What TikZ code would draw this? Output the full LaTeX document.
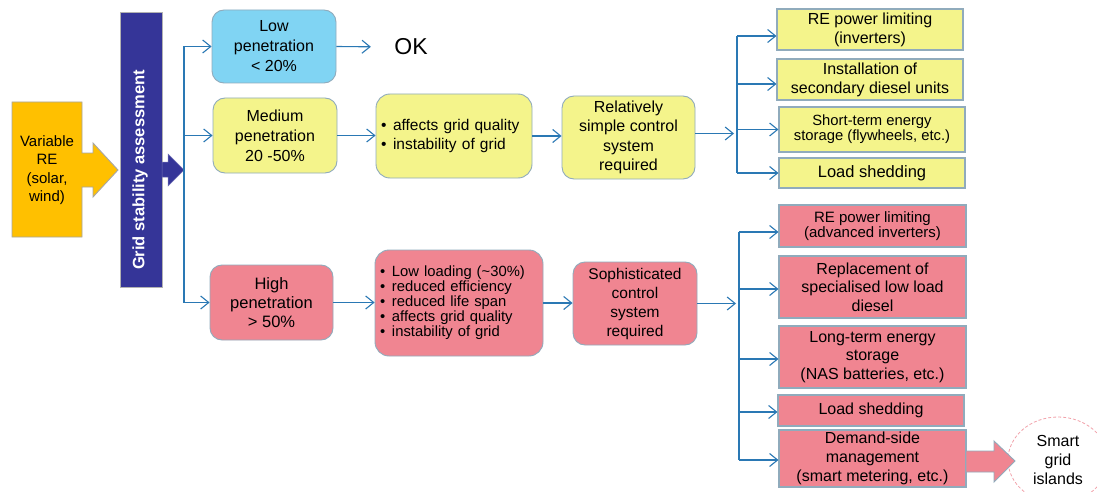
\documentclass[tikz,border=0pt]{standalone}
\usepackage{fontspec}
\setmainfont{Liberation Sans}
\usetikzlibrary{arrows.meta,shapes.geometric}
\definecolor{lowblue}{HTML}{80D4F3}
\definecolor{yel}{HTML}{F4F48B}
\definecolor{pnk}{HTML}{F08591}
\definecolor{bord}{HTML}{90ABBC}
\definecolor{conn}{HTML}{2A78B4}
\definecolor{barblue}{HTML}{353598}
\definecolor{org}{HTML}{FFC000}
\definecolor{dashpink}{HTML}{F2A2AA}
\newcommand\fsz[2]{\fontsize{#1}{#2}\selectfont}
\tikzset{
  rbox/.style={draw=bord, line width=0.9pt, rounded corners=12pt, align=center, inner sep=0pt},
  sbox/.style={draw=bord, line width=1.1pt, align=center, inner sep=0pt},
  blist/.style={draw=bord, line width=0.9pt, rounded corners=14pt, align=left, inner sep=5pt},
  conn/.style={draw=conn, line width=1.1pt, -{Straight Barb[length=8pt,width=13pt]}},
  trunk/.style={draw=conn, line width=2pt},
  fat/.style={draw=bord, line width=0.9pt, line join=miter},
}
\newcommand\bl{\makebox[12pt][l]{•}}
\begin{document}
\begin{tikzpicture}[x=1pt,y=-1pt]
\useasboundingbox (0,0) rectangle (1097,492);
\clip (0,0) rectangle (1097,492);
\fill[white] (0,0) rectangle (1097,492);

% Variable RE arrow
\coordinate (va) at (12,102);
\filldraw[fat, fill=org, draw=gray!70] (va) -- (82,102) -- (82,153) -- (93,153) -- (93,143) -- (118,170) -- (93,197) -- (93,187) -- (82,187) -- (82,237) -- (12,237) -- cycle;
\node[font=\fsz{15}{18.5}, align=center] (vre) at (47,170) {Variable\\RE\\(solar,\\wind)};

% Grid stability bar
\filldraw[fill=barblue, draw=gray!60, line width=0.8pt] (120,12) rectangle (162,287);
\node[rotate=90, text=white, font=\bfseries\fsz{16.5}{19}] (gsa) at (140,170) {Grid stability assessment};
\filldraw[fill=barblue, draw=barblue!70, line width=0.5pt, line join=miter] (162,162) -- (168,162) -- (168,154) -- (184,170) -- (168,186) -- (168,177) -- (162,177) -- cycle;

% penetration boxes
\node[rbox, fill=lowblue, minimum width=124pt, minimum height=73pt, font=\fsz{16}{20}] (low) at (274,46.5) {Low\\penetration\\< 20\%};
\node[rbox, fill=yel, minimum width=124pt, minimum height=75pt, font=\fsz{16}{20}] (med) at (275,135.5) {Medium\\penetration\\20 -50\%};
\node[rbox, fill=pnk, minimum width=123pt, minimum height=75pt, font=\fsz{16.5}{19}] (high) at (271.5,302.5) {High\\penetration\\> 50\%};

\node[font=\fsz{23}{26}] (ok) at (411,47) {OK};

% main trunk
\coordinate (tm) at (184,0);
\draw[trunk] (low.west -| tm) -- (high.west -| tm);
\draw[conn] (low.west -| tm) -- (low.west);
\draw[conn] (med.west -| tm) -- (med.west);
\draw[conn] (high.west -| tm) -- (high.west);
\draw[conn, shorten >=20pt] (low.east) -- (ok.west);

% medium chain
\node[blist, fill=yel, text width=146pt, minimum height=84pt, font=\fsz{15.5}{19}] (medb) at (454,136) {\bl affects grid quality\\\bl instability of grid};
\node[rbox, fill=yel, minimum width=133pt, minimum height=83pt, font=\fsz{16}{19.5}] (medc) at (628.5,137.5) {Relatively\\simple control\\system\\required};
\draw[conn] (med.east) -- (med.east -| medb.west);
\draw[conn] (medb.east) -- (medb.east -| medc.west);

% high chain
\node[blist, fill=pnk, text width=158pt, minimum height=106pt, font=\fsz{14.8}{15}] (highb) at (459,303) {\bl Low loading (\textasciitilde30\%)\\\bl reduced efficiency\\\bl reduced life span\\\bl affects grid quality\\\bl instability of grid};
\node[rbox, fill=pnk, minimum width=124pt, minimum height=83pt, font=\fsz{15.5}{19}] (highc) at (635,303.5) {Sophisticated\\control\\system\\required};
\draw[conn] (high.east) -- (high.east -| highb.west);
\draw[conn] (highb.east) -- (highb.east -| highc.west);

% yellow measures
\node[sbox, fill=yel, minimum width=186pt, minimum height=41pt, font=\fsz{16}{19}] (y1) at (870,29.5) {RE power limiting\\(inverters)};
\node[sbox, fill=yel, minimum width=186pt, minimum height=41pt, font=\fsz{16}{19}] (y2) at (870,79.5) {Installation of\\secondary diesel units};
\node[sbox, fill=yel, minimum width=186pt, minimum height=45pt, font=\fsz{14.8}{15}] (y3) at (872,129.5) {Short-term energy\\storage (flywheels, etc.)};
\node[sbox, fill=yel, minimum width=186pt, minimum height=30pt, font=\fsz{16.5}{19}] (y4) at (872,173) {Load shedding};

\coordinate (tx1) at (737,0);
\coordinate (e1) at ([yshift=-6.5pt]y1.west);
\coordinate (e2) at ([yshift=-4.5pt]y2.west);
\coordinate (e3) at (y3.west);
\coordinate (e4) at (y4.west);
\draw[trunk] (e1 -| tx1) -- (e4 -| tx1);
\foreach \e in {e1,e2,e3,e4} \draw[conn] (\e -| tx1) -- (\e);
\draw[conn, shorten >=3pt] ([yshift=4pt]medc.east) -- ([yshift=4pt]medc.east -| tx1);

% red measures
\node[sbox, fill=pnk, minimum width=187pt, minimum height=42pt, font=\fsz{15}{14.5}] (r1) at (872.5,226) {RE power limiting\\(advanced inverters)};
\node[sbox, fill=pnk, minimum width=187pt, minimum height=62pt, font=\fsz{16}{18.5}] (r2) at (872.5,287) {Replacement of\\specialised low load\\diesel};
\node[sbox, fill=pnk, minimum width=187pt, minimum height=62pt, font=\fsz{16}{18.5}] (r3) at (872.5,357) {Long-term energy\\storage\\(NAS batteries, etc.)};
\node[sbox, fill=pnk, minimum width=186pt, minimum height=31pt, font=\fsz{16}{19}] (r4) at (871,410.5) {Load shedding};
\node[sbox, fill=pnk, minimum width=187pt, minimum height=57pt, font=\fsz{16}{19}] (r5) at (872.5,458.5) {Demand-side\\management\\(smart metering, etc.)};

\coordinate (tx2) at (739,0);
\coordinate (f1) at ([yshift=-6pt]r1.west);
\coordinate (f2) at ([yshift=-2pt]r2.west);
\coordinate (f3) at ([yshift=-2pt]r3.west);
\coordinate (f4) at ([yshift=-1.5pt]r4.west);
\coordinate (f5) at ([yshift=-1.5pt]r5.west);
\draw[trunk] (f1 -| tx2) -- (f5 -| tx2);
\foreach \e in {f1,f2,f3,f4,f5} \draw[conn] (\e -| tx2) -- (\e);
\draw[conn, shorten >=3pt] (highc.east) -- (highc.east -| tx2);

% smart grid islands
\node[ellipse, draw=dashpink, dash pattern=on 3pt off 2pt, line width=0.8pt, minimum width=100pt, minimum height=86pt, inner sep=0pt, align=center, font=\fsz{16}{19}] (sgi) at (1058,460) {Smart\\grid\\islands};
\filldraw[fat, fill=pnk] (966,451) -- (994,451) -- (994,441) -- (1015,461) -- (994,482) -- (994,472) -- (966,472) -- cycle;
\end{tikzpicture}
\end{document}
